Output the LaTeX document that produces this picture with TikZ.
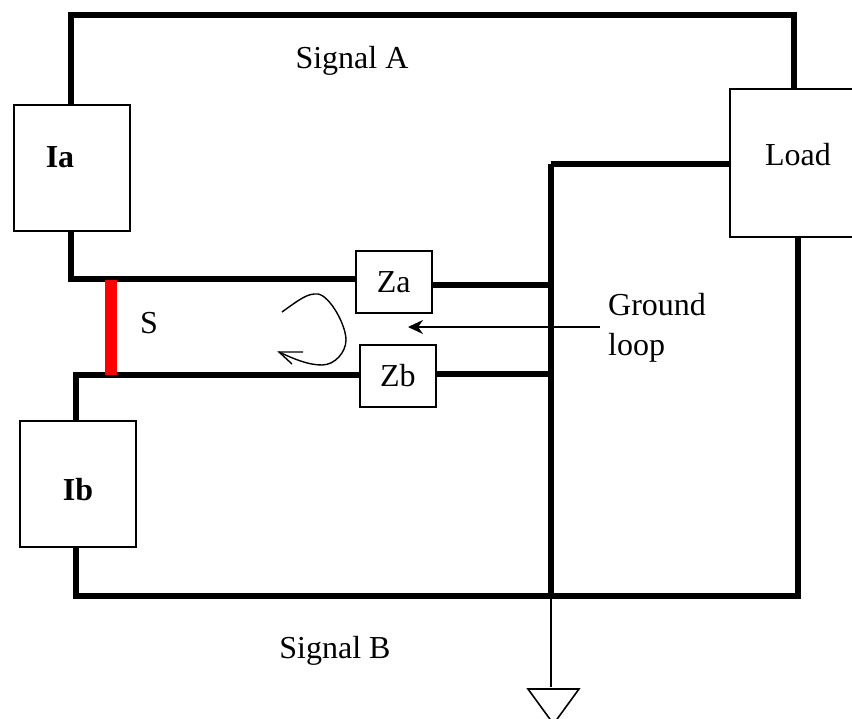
\documentclass[tikz,border=0pt]{standalone}
\usepackage{fontspec}
\setmainfont{Liberation Serif}
\usetikzlibrary{arrows.meta}
\begin{document}
\begin{tikzpicture}[x=1pt,y=-1pt,
        wire/.style={line width=5.5pt},
        thin wire/.style={line width=1.6pt},
        lab/.style={font=\fontsize{32}{40}\selectfont,inner sep=0pt,align=left},
        box/.style={draw=black,fill=white,line width=1.6pt,inner sep=0pt,anchor=north west,font=\fontsize{32}{40}\selectfont}]
\useasboundingbox (0,0) rectangle (852,719);

% boxes
\node[box,minimum width=116pt,minimum height=126pt] (ia) at (13,104) {};
\node[box,minimum width=116pt,minimum height=126pt] (ib) at (19,420) {};
\node[box,minimum width=76pt,minimum height=62pt] (za) at (355,250) {Za};
\node[box,minimum width=76pt,minimum height=62pt] (zb) at (359,344) {Zb};
\node[box,minimum width=124pt,minimum height=148pt] (load) at (729,88) {};

\coordinate (tl) at (71,15);
\coordinate (tr) at (794,15);
\coordinate (ml) at (71,279);
\coordinate (nl) at (76,375);
\coordinate (bl) at (76,596);
\coordinate (br) at (798,596);
\coordinate (gt) at (551,164);
\coordinate (gb) at (551,596);
\coordinate (ga) at (551,285);
\coordinate (gz) at (551,374);
\coordinate (gnd) at (551,687);

% signal wires
\draw[wire] (tl |- ia.north) -- (tl) -- (tr) -- (tr |- load.north);
\draw[wire] (ml |- ia.south) -- (ml) -- (ml -| za.west);
\draw[wire] (zb.west |- nl) -- (nl) -- (nl |- ib.north);
\draw[wire] (bl |- ib.south) -- (bl) -- (br) -- (br |- load.south);
\draw[wire] (gt) -- (gb);
\draw[wire] (gt) -- (gt -| load.west);
\draw[wire] (ga -| za.east) -- (ga);
\draw[wire] (gz -| zb.east) -- (gz);

% short
\coordinate (sa) at (111,280);
\coordinate (sb) at (111,375);
\draw[red,line width=12pt] (sa) -- (sb);

% labels
\node[lab] (ialabel) at (60,157) {\textbf{Ia}};
\node[lab] (iblabel) at (78,490) {\textbf{Ib}};
\node[lab] (loadlabel) at (798,155) {Load};
\node[lab] (siga) at (352,61) {Signal A};
\node[lab] (sigb) at (335,651) {Signal B};
\node[lab] (s) at (149,323) {S};
\node[lab,anchor=north west] (gl) at (608,293) {Ground\\loop};

% ground loop arrow
\coordinate (gla) at (600,327);
\coordinate (glb) at (408,327);
\draw[-{Stealth[length=15pt,width=14pt]},thin wire] (gla) -- (glb);

% circulating current
\coordinate (ca) at (282,312);
\coordinate (cb) at (279,352);
\draw[line width=1.4pt] (ca) .. controls (300,299) and (308,293) .. (318,294)
    .. controls (330,296) and (346,325) .. (346,340)
    .. controls (346,352) and (335,365) .. (322,365)
    .. controls (308,365) and (294,359) .. (cb);
\draw[line width=1.4pt] (303,352) -- (cb) -- (292,364);

% ground
\draw[thin wire] (gb) -- (gnd);
\draw[thin wire] (528,689) -- (579,689) -- (553.5,724) -- cycle;
\end{tikzpicture}
\end{document}
